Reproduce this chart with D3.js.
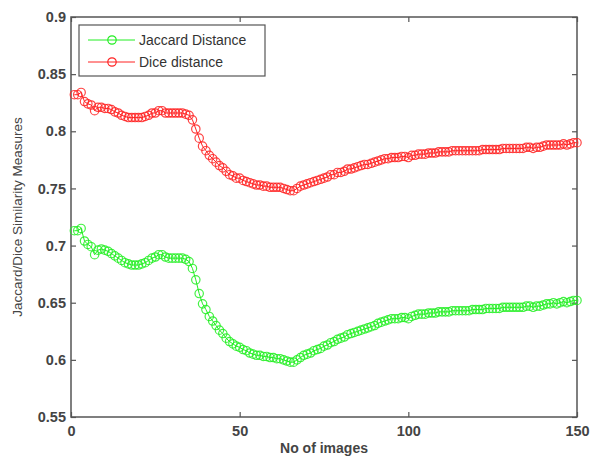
<!DOCTYPE html>
<html><head><meta charset="utf-8">
<script src="https://cdn.jsdelivr.net/npm/d3@7"></script>
<style>body{margin:0;background:#fff}svg{display:block}</style>
</head><body>
<script>
const jaccard = [0.713,0.713,0.715,0.704,0.701,0.699,0.692,0.696,0.697,0.696,
0.695,0.693,0.691,0.689,0.687,0.685,0.684,0.683,0.683,0.683,
0.684,0.685,0.687,0.689,0.690,0.692,0.692,0.690,0.689,0.689,
0.689,0.689,0.689,0.688,0.686,0.680,0.670,0.658,0.649,0.644,
0.638,0.634,0.630,0.626,0.623,0.619,0.616,0.614,0.612,0.611,
0.609,0.608,0.606,0.605,0.604,0.604,0.603,0.603,0.602,0.602,
0.601,0.601,0.600,0.599,0.598,0.598,0.600,0.602,0.604,0.605,
0.606,0.608,0.609,0.610,0.612,0.613,0.615,0.616,0.618,0.619,
0.620,0.622,0.623,0.624,0.625,0.626,0.627,0.628,0.629,0.630,
0.632,0.633,0.634,0.635,0.636,0.636,0.636,0.637,0.637,0.636,
0.638,0.639,0.640,0.640,0.640,0.641,0.641,0.641,0.642,0.642,
0.642,0.642,0.643,0.643,0.643,0.643,0.643,0.643,0.644,0.644,
0.644,0.644,0.645,0.645,0.645,0.645,0.645,0.646,0.646,0.646,
0.646,0.646,0.646,0.646,0.647,0.647,0.646,0.647,0.647,0.648,
0.649,0.649,0.650,0.649,0.650,0.651,0.650,0.651,0.652,0.652];
const dice = [0.832,0.832,0.834,0.826,0.824,0.823,0.818,0.821,0.821,0.820,
0.820,0.819,0.817,0.816,0.814,0.813,0.812,0.812,0.812,0.812,
0.812,0.813,0.814,0.816,0.816,0.818,0.818,0.816,0.816,0.816,
0.816,0.816,0.816,0.815,0.814,0.810,0.802,0.794,0.787,0.783,
0.779,0.776,0.773,0.770,0.768,0.765,0.762,0.761,0.759,0.759,
0.757,0.756,0.755,0.754,0.753,0.753,0.752,0.752,0.751,0.751,
0.751,0.751,0.750,0.749,0.748,0.748,0.750,0.752,0.753,0.754,
0.755,0.756,0.757,0.758,0.759,0.760,0.762,0.762,0.764,0.764,
0.765,0.767,0.767,0.768,0.769,0.770,0.771,0.771,0.772,0.773,
0.774,0.775,0.776,0.776,0.777,0.777,0.777,0.778,0.778,0.777,
0.779,0.779,0.780,0.780,0.780,0.781,0.781,0.781,0.782,0.782,
0.782,0.782,0.783,0.783,0.783,0.783,0.783,0.783,0.783,0.783,
0.783,0.784,0.784,0.784,0.784,0.784,0.784,0.785,0.785,0.785,
0.785,0.785,0.785,0.785,0.786,0.786,0.785,0.786,0.786,0.787,
0.788,0.788,0.788,0.788,0.788,0.789,0.788,0.789,0.790,0.790];
const xTicks = [0,50,100,150];
const yTicks = [0.55,0.6,0.65,0.7,0.75,0.8,0.85,0.9];
const seriesNames = ["Jaccard Distance","Dice distance"];
const seriesColors = ["#22ee22","#ff2222"];
const xLabel = "No of images";
const yLabel = "Jaccard/Dice Similarity Measures";

const W=590,H=457, L=71,R=577,T=17,B=417;
const svg=d3.select("body").append("svg").attr("width",W).attr("height",H);
const x=d3.scaleLinear().domain([0,150]).range([L,R]);
const y=d3.scaleLinear().domain([0.55,0.9]).range([B,T]);
const axisColor="#555", textColor="#444";
const font="Arial, 'Liberation Sans', sans-serif";

function styleAxis(g){
  g.selectAll("path").remove();
  g.selectAll("line").attr("stroke",axisColor).attr("stroke-width",1.2);
  g.selectAll("text").attr("fill",textColor).attr("font-size","14.5px").attr("font-family",font).attr("font-weight","bold");
}
const fmt=d=>String(+d.toFixed(2));
svg.append("g").attr("transform",`translate(0,${B})`).call(d3.axisBottom(x).tickValues(xTicks).tickSize(-5).tickPadding(9).tickFormat(fmt)).call(styleAxis);
svg.append("g").attr("transform",`translate(${L},0)`).call(d3.axisLeft(y).tickValues(yTicks).tickSize(-5).tickPadding(5).tickFormat(fmt)).call(styleAxis);
svg.append("g").attr("transform",`translate(0,${T})`).call(d3.axisTop(x).tickValues(xTicks).tickSize(-5).tickFormat("")).call(styleAxis);
svg.append("g").attr("transform",`translate(${R},0)`).call(d3.axisRight(y).tickValues(yTicks).tickSize(-5).tickFormat("")).call(styleAxis);
svg.append("rect").attr("x",L).attr("y",T).attr("width",R-L).attr("height",B-T).attr("fill","none").attr("stroke",axisColor).attr("stroke-width",1.5);

[jaccard,dice].forEach((vals,k)=>{
  const pts=vals.map((v,i)=>[i+1,v]);
  const g=svg.append("g");
  g.append("path").datum(pts).attr("fill","none").attr("stroke",seriesColors[k]).attr("stroke-width",1)
    .attr("d",d3.line().x(d=>x(d[0])).y(d=>y(d[1])));
  g.selectAll("circle").data(pts).join("circle").attr("cx",d=>x(d[0])).attr("cy",d=>y(d[1])).attr("r",4.2)
    .attr("fill","none").attr("stroke",seriesColors[k]).attr("stroke-width",1.2).attr("stroke-opacity",0.85);
});

// legend
const lg=svg.append("g");
lg.append("rect").attr("x",79).attr("y",25).attr("width",186).attr("height",51).attr("fill","#fff").attr("stroke",axisColor).attr("stroke-width",1.2);
seriesNames.forEach((n,k)=>{
  const yy=40+k*22;
  lg.append("line").attr("x1",88).attr("x2",135).attr("y1",yy).attr("y2",yy).attr("stroke",seriesColors[k]).attr("stroke-width",1);
  lg.append("circle").attr("cx",112).attr("cy",yy).attr("r",4.2).attr("fill","none").attr("stroke",seriesColors[k]).attr("stroke-width",1.2);
  lg.append("text").attr("x",139).attr("y",yy+5).text(n).attr("fill","#333").attr("font-size","14px").attr("font-family",font);
});

svg.append("text").attr("x",(L+R)/2).attr("y",453).attr("text-anchor","middle").text(xLabel)
  .attr("fill",textColor).attr("font-size","14px").attr("font-weight","bold").attr("font-family",font);
svg.append("text").attr("transform",`translate(22,${(T+B)/2}) rotate(-90)`).attr("text-anchor","middle").text(yLabel)
  .attr("fill",textColor).attr("font-size","13.5px").attr("font-family",font);
</script>
</body></html>
